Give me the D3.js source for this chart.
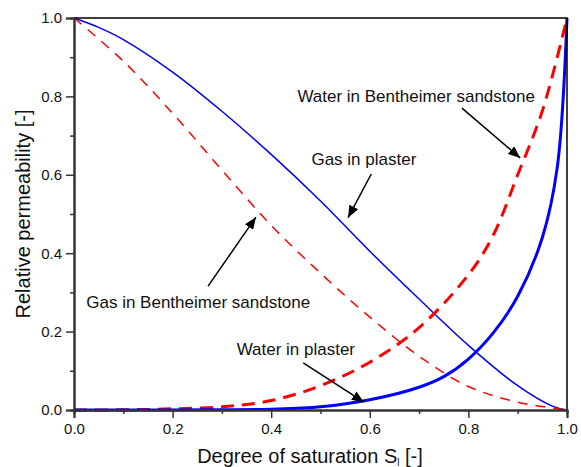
<!DOCTYPE html>
<html>
<head>
<meta charset="utf-8">
<script src="https://cdn.jsdelivr.net/npm/d3@7"></script>
<style>
  body { margin: 0; background: #fff; }
  text { font-family: "Liberation Sans", Arial, sans-serif; fill: #111; }
</style>
</head>
<body>
<svg></svg>
<script>
const width = 581, height = 467;
const margin = { top: 18, right: 14, bottom: 57, left: 74 };

// Data
const gasPlasterS = [0, 0.05, 0.1, 0.2, 0.3, 0.4, 0.5, 0.6, 0.7, 0.8, 0.9, 0.97, 1.0];
const gasPlasterK = [1.0, 0.976, 0.945, 0.862, 0.762, 0.652, 0.533, 0.405, 0.283, 0.165, 0.062, 0.01, 0];

const gasBenthS = [0, 0.1, 0.2, 0.3, 0.4, 0.5, 0.6, 0.7, 0.8, 0.9, 1.0];
const gasBenthK = [1.0, 0.89, 0.757, 0.612, 0.471, 0.349, 0.237, 0.137, 0.06, 0.02, 0];

const waterBenthS = [0, 0.1, 0.2, 0.3, 0.4, 0.5, 0.6, 0.7, 0.8, 0.85, 0.9, 0.95, 1.0];
const waterBenthK = [0, 0.0005, 0.003, 0.008, 0.024, 0.062, 0.122, 0.21, 0.345, 0.445, 0.6, 0.763, 1.0];

const waterPlasterS = [0, 0.3, 0.4, 0.5, 0.6, 0.7, 0.75, 0.8, 0.85, 0.9, 0.95, 0.98, 1.0];
const waterPlasterK = [0, 0.0005, 0.002, 0.008, 0.026, 0.058, 0.085, 0.13, 0.196, 0.29, 0.44, 0.617, 1.0];

const majorTicks = [0, 0.2, 0.4, 0.6, 0.8, 1.0];
const minorTicks = [0.1, 0.3, 0.5, 0.7, 0.9];

// annotations: label, text anchor point (data), arrow tail & head (data)
const notes = [
  { label: "Gas in plaster", tx: 0.588, ty: 0.625, from: [0.603, 0.602], to: [0.556, 0.491] },
  { label: "Water in Bentheimer sandstone", tx: 0.694, ty: 0.786, from: [0.787, 0.77], to: [0.905, 0.643] },
  { label: "Gas in Bentheimer sandstone", tx: 0.252, ty: 0.26, from: [0.272, 0.316], to: [0.369, 0.492] },
  { label: "Water in plaster", tx: 0.45, ty: 0.14, from: [0.465, 0.12], to: [0.588, 0.02] }
];

const svg = d3.select("svg").attr("width", width).attr("height", height);

const x = d3.scaleLinear().domain([0, 1]).range([margin.left, width - margin.right]);
const y = d3.scaleLinear().domain([0, 1]).range([height - margin.bottom, margin.top]);

svg.append("defs").append("marker")
    .attr("id", "head")
    .attr("viewBox", "0 0 12 10")
    .attr("refX", 12).attr("refY", 5)
    .attr("markerWidth", 12).attr("markerHeight", 10)
    .attr("markerUnits", "userSpaceOnUse")
    .attr("orient", "auto")
  .append("path")
    .attr("d", "M0,0 L12,5 L0,10 Z")
    .attr("fill", "#000");

// curves
const line = d3.line().x(d => x(d[0])).y(d => y(d[1])).curve(d3.curveCatmullRom.alpha(0.5));
const zip = (a, b) => a.map((v, i) => [v, b[i]]);

const series = [
  { pts: zip(gasPlasterS, gasPlasterK), color: "#0000ff", w: 1.5, dash: null },
  { pts: zip(gasBenthS, gasBenthK), color: "#ff0000", w: 1.5, dash: "10,8" },
  { pts: zip(waterBenthS, waterBenthK), color: "#ff0000", w: 3, dash: "13,8" },
  { pts: zip(waterPlasterS, waterPlasterK), color: "#0000ff", w: 3, dash: null }
];

svg.selectAll("path.curve")
  .data(series)
  .enter().append("path")
    .attr("class", "curve")
    .attr("d", d => line(d.pts))
    .attr("fill", "none")
    .attr("stroke", d => d.color)
    .attr("stroke-width", d => d.w)
    .attr("stroke-dasharray", d => d.dash);

// frame: top and right
svg.append("path")
    .attr("d", `M${x(0)},${y(1)}H${x(1)}V${y(0)}`)
    .attr("fill", "none").attr("stroke", "#000").attr("stroke-width", 1.5);

// axes
const fmt = d3.format(".1f");
const xAxis = svg.append("g").attr("transform", `translate(0,${y(0)})`);
xAxis.call(d3.axisBottom(x).tickValues(majorTicks).tickFormat(fmt).tickSize(8).tickPadding(5));
xAxis.append("g").call(d3.axisBottom(x).tickValues(minorTicks).tickFormat("").tickSize(4));

const yAxis = svg.append("g").attr("transform", `translate(${x(0)},0)`);
yAxis.call(d3.axisLeft(y).tickValues(majorTicks).tickFormat(fmt).tickSize(8).tickPadding(4));
yAxis.append("g").call(d3.axisLeft(y).tickValues(minorTicks).tickFormat("").tickSize(4));

svg.selectAll(".domain").attr("stroke", "#333").attr("stroke-width", 2);
svg.selectAll(".tick line").attr("stroke", "#333").attr("stroke-width", 1.5);
svg.selectAll(".tick text").attr("font-size", 15).attr("fill", "#111")
    .attr("font-family", "Liberation Sans, Arial, sans-serif");

// axis titles
const xt = svg.append("text")
    .attr("x", 310)
    .attr("y", 463)
    .attr("text-anchor", "middle")
    .attr("font-size", 20);
xt.append("tspan").text("Degree of saturation S");
xt.append("tspan").attr("font-size", 10).attr("dy", 3).text("l");
xt.append("tspan").attr("dy", -3).text(" [-]");

svg.append("text")
    .attr("transform", `translate(30,${(y(0) + y(1)) / 2}) rotate(-90)`)
    .attr("text-anchor", "middle")
    .attr("font-size", 20)
    .text("Relative permeability [-]");

// annotations
svg.selectAll("text.note")
  .data(notes)
  .enter().append("text")
    .attr("class", "note")
    .attr("x", d => x(d.tx))
    .attr("y", d => y(d.ty))
    .attr("text-anchor", "middle")
    .attr("font-size", 17)
    .text(d => d.label);

svg.selectAll("line.arrow")
  .data(notes)
  .enter().append("line")
    .attr("class", "arrow")
    .attr("x1", d => x(d.from[0])).attr("y1", d => y(d.from[1]))
    .attr("x2", d => x(d.to[0])).attr("y2", d => y(d.to[1]))
    .attr("stroke", "#000").attr("stroke-width", 1.5)
    .attr("marker-end", "url(#head)");
</script>
</body>
</html>
